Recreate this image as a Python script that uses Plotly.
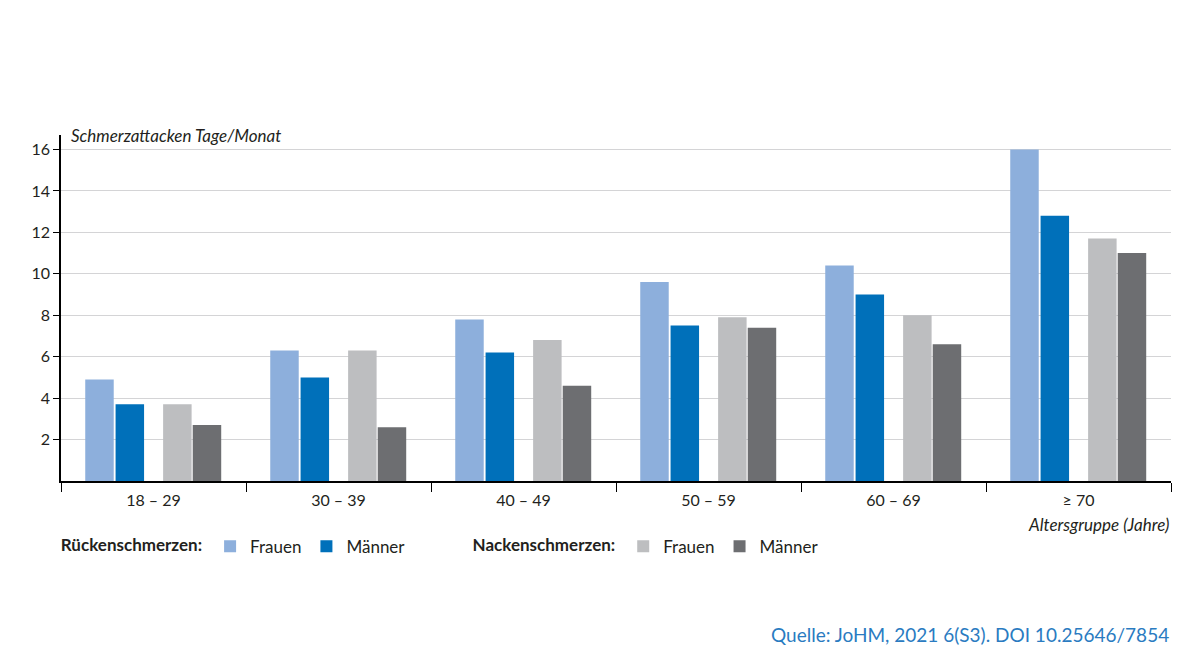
import plotly.graph_objects as go

age_groups = ["18 – 29", "30 – 39", "40 – 49", "50 – 59", "60 – 69", "≥ 70"]
ruecken_frauen = [4.9, 6.3, 7.8, 9.6, 10.4, 16.0]
ruecken_maenner = [3.7, 5.0, 6.2, 7.5, 9.0, 12.8]
nacken_frauen = [3.7, 6.3, 6.8, 7.9, 8.0, 11.7]
nacken_maenner = [2.7, 2.6, 4.6, 7.4, 6.6, 11.0]
y_ticks = [2, 4, 6, 8, 10, 12, 14, 16]

FONT = "Lato"
TXT = "#231f20"
BW = 0.154

fig = go.Figure()
series = [
    ("Frauen", ruecken_frauen, "#8dafdc", -0.369, "legend"),
    ("Männer", ruecken_maenner, "#0070ba", -0.205, "legend"),
    ("Frauen", nacken_frauen, "#bdbec0", 0.052, "legend2"),
    ("Männer", nacken_maenner, "#6d6e71", 0.212, "legend2"),
]
for name, vals, col, off, leg in series:
    fig.add_trace(go.Bar(
        x=age_groups, y=vals, name=name, marker_color=col,
        marker_line_width=0, width=BW, offset=off, legend=leg,
    ))

fig.update_layout(
    width=1200, height=670,
    margin=dict(l=53, r=37, t=127, b=197),
    paper_bgcolor="white", plot_bgcolor="white",
    font=dict(family=FONT, color=TXT, size=16),
    barmode="overlay",
    showlegend=True,
    legend=dict(
        orientation="h", x=-0.002, xanchor="left", y=-0.19, yanchor="middle",
        title=dict(text="<b>Rückenschmerzen:</b>", side="left", font=dict(size=17)),
        font=dict(size=17), itemwidth=30,
        bgcolor="rgba(0,0,0,0)",
    ),
    legend2=dict(
        orientation="h", x=0.369, xanchor="left", y=-0.19, yanchor="middle",
        title=dict(text="<b>Nackenschmerzen:</b>", side="left", font=dict(size=17)),
        font=dict(size=17), itemwidth=30,
        bgcolor="rgba(0,0,0,0)",
    ),
    xaxis=dict(
        type="category", tickson="boundaries", ticks="outside", ticklen=9,
        tickcolor="black", tickwidth=1.2, showline=True, linecolor="black",
        linewidth=1.5, showgrid=False, tickfont=dict(size=16),
        ticklabelstandoff=4, range=[-0.5, 5.5],
    ),
    yaxis=dict(
        range=[0, 16.7], tickvals=y_ticks, ticks="outside", ticklen=6,
        tickcolor="black", showline=True, linecolor="black", linewidth=1.5,
        showgrid=True, gridcolor="#d4d4d6", gridwidth=1.2, zeroline=False,
        tickfont=dict(size=16),
    ),
    annotations=[
        dict(text="<i>Schmerzattacken Tage/Monat</i>", xref="paper", yref="paper",
             x=0.007, y=1.0, xanchor="left", yanchor="middle", showarrow=False,
             font=dict(size=17)),
        dict(text="<i>Altersgruppe (Jahre)</i>", xref="paper", yref="paper",
             x=1.0, y=-0.125, xanchor="right", yanchor="middle", showarrow=False,
             font=dict(size=17)),
        dict(text="Quelle: JoHM, 2021 6(S3). DOI 10.25646/7854", xref="paper",
             yref="paper", x=1.0, y=-0.443, xanchor="right", yanchor="middle",
             showarrow=False, font=dict(size=19, color="#2a7bc1")),
    ],
)

fig.write_html("out.html")
